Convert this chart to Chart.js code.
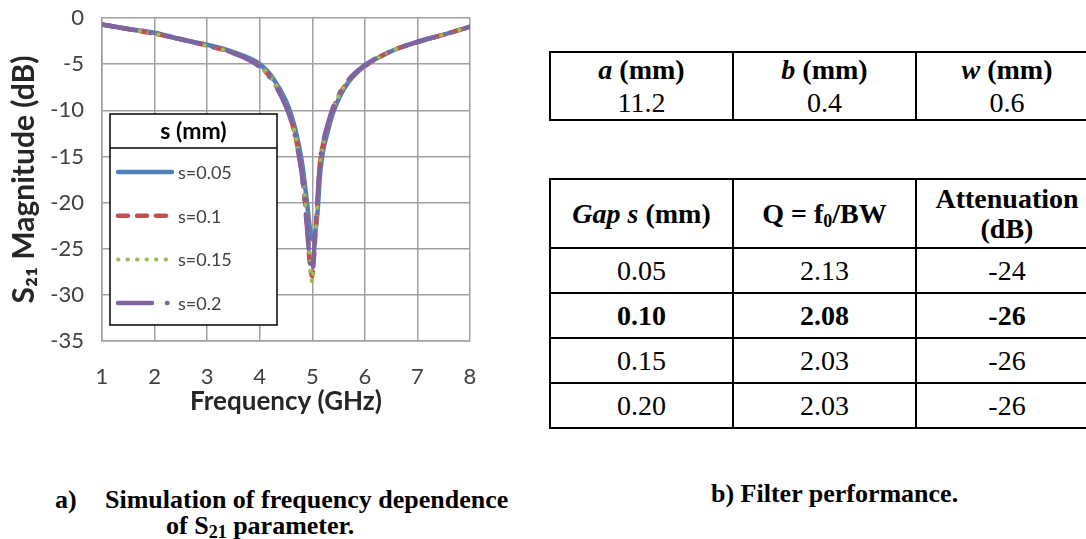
<!DOCTYPE html>
<html><head><meta charset="utf-8">
<script src="https://cdn.jsdelivr.net/npm/chart.js@4.4.1/dist/chart.umd.min.js"></script>
<style>
html,body{margin:0;padding:0;background:#fff;}
body{width:1086px;height:539px;overflow:hidden;position:relative;}
#wrap{position:absolute;left:0;top:-30px;width:520px;height:460px;}
.tbl{position:absolute;border-collapse:collapse;font-family:"Liberation Serif","Times New Roman","DejaVu Serif",serif;font-size:28px;color:#000;table-layout:fixed;}
.tbl td{border:2px solid #000;text-align:center;padding:0;vertical-align:middle;}
#t1 td{line-height:33px;}
#t2 td{line-height:30px;}
#t2 tr.r td{height:43px;}
#t2 tr.h td{height:67px;}
.cap{position:absolute;font-family:"Liberation Serif","Times New Roman",serif;font-weight:bold;font-size:26px;line-height:26px;white-space:nowrap;color:#000;}
sub.s{font-size:18px;vertical-align:-4px;line-height:0;}
</style></head>
<body>
<div id="wrap"><canvas id="c" width="520" height="460"></canvas></div>

<table class="tbl" id="t1" style="left:549px;top:51px;width:548px;">
<colgroup><col style="width:183px"><col style="width:183px"><col style="width:182px"></colgroup>
<tr><td><b><i>a</i> (mm)</b><br>11.2</td><td><b><i>b</i> (mm)</b><br>0.4</td><td><b><i>w</i> (mm)</b><br>0.6</td></tr>
</table>

<table class="tbl" id="t2" style="left:549px;top:178px;width:548px;">
<colgroup><col style="width:183px"><col style="width:183px"><col style="width:182px"></colgroup>
<tr class="h"><td><b><i>Gap s</i> (mm)</b></td><td><b>Q = f<sub class="s">0</sub>/BW</b></td><td><b>Attenuation<br>(dB)</b></td></tr>
<tr class="r"><td>0.05</td><td>2.13</td><td>-24</td></tr>
<tr class="r" style="font-weight:bold"><td>0.10</td><td>2.08</td><td>-26</td></tr>
<tr class="r"><td>0.15</td><td>2.03</td><td>-26</td></tr>
<tr class="r"><td>0.20</td><td>2.03</td><td>-26</td></tr>
</table>

<div class="cap" style="left:55px;top:487px">a)</div>
<div class="cap" style="left:105px;top:487px">Simulation of frequency dependence</div>
<div class="cap" style="left:166px;top:513px">of S<sub class="s">21</sub> parameter.</div>
<div class="cap" style="left:711px;top:481px">b) Filter performance.</div>

<script>
// ---- data ----
const frequencyGHz = [1, 1.5, 2, 2.5, 3, 3.5, 4, 4.25, 4.5, 4.6, 4.7, 4.8, 4.85, 4.9, 4.95, 5, 5.05, 5.1, 5.15, 5.2, 5.3, 5.4, 5.5, 5.6, 5.75, 6, 6.5, 7, 7.5, 8];
const s21_s005 = [-0.7, -1.2, -1.6, -2.3, -2.9, -3.7, -5.0, -6.5, -9.0, -10.5, -12.6, -15.5, -17.6, -20.0, -22.6, -24.0, -23.5, -21.0, -16.8, -14.6, -12.2, -10.2, -8.8, -7.7, -6.5, -5.2, -3.6, -2.6, -1.8, -0.95];
const s21_s010 = [-0.7, -1.2, -1.7, -2.3, -3.0, -3.8, -5.2, -6.8, -9.5, -11.1, -13.4, -16.8, -19.3, -22.3, -26.5, -28.0, -24.2, -19.8, -15.4, -13.8, -11.6, -9.8, -8.4, -7.5, -6.4, -5.2, -3.6, -2.6, -1.8, -0.95];
const s21_s015 = [-0.7, -1.2, -1.7, -2.3, -3.0, -3.8, -5.2, -6.7, -9.4, -11.0, -13.3, -16.6, -19.0, -22.0, -26.0, -28.6, -24.6, -20.2, -15.6, -13.9, -11.7, -9.8, -8.5, -7.5, -6.4, -5.2, -3.6, -2.6, -1.8, -0.95];
const s21_s020 = [-0.7, -1.2, -1.7, -2.3, -3.0, -3.8, -5.3, -6.9, -9.6, -11.2, -13.6, -16.9, -19.6, -22.8, -26.0, -27.6, -23.5, -19.5, -15.3, -13.6, -11.4, -9.6, -8.3, -7.4, -6.3, -5.1, -3.6, -2.6, -1.8, -0.95];
const seriesLabels = ['s=0.05', 's=0.1', 's=0.15', 's=0.2'];
const legendTitle = 's (mm)';
const xTicks = [1, 2, 3, 4, 5, 6, 7, 8];
const yTicks = [0, -5, -10, -15, -20, -25, -30, -35];
const xTitle = 'Frequency (GHz)';
const yTitle = 'S\u2082\u2081 Magnitude (dB)';

const toXY = arr => arr.map((v, i) => ({x: frequencyGHz[i], y: v}));
const styles = [
  {borderColor: '#4F81BD', borderWidth: 4.5, borderDash: [], borderCapStyle: 'round', order: 3},
  {borderColor: '#C0504D', borderWidth: 4.5, borderDash: [10, 9], borderCapStyle: 'round', order: 2},
  {borderColor: '#9BBB59', borderWidth: 4, borderDash: [0.5, 9], borderCapStyle: 'round', order: 1},
  {borderColor: '#8064A2', borderWidth: 4.5, borderDash: [34, 15, 0.5, 15], borderCapStyle: 'round', order: 0}
];
const seriesData = [s21_s005, s21_s010, s21_s015, s21_s020];

const boxLegend = {
  id: 'boxLegend',
  afterDraw(chart) {
    const {ctx, chartArea} = chart;
    const x0 = chartArea.left + 8, y0 = chartArea.top + 96, w = 167, h = 211;
    ctx.save();
    ctx.fillStyle = '#fff'; ctx.fillRect(x0, y0, w, h);
    ctx.strokeStyle = '#000'; ctx.lineWidth = 1.5; ctx.setLineDash([]);
    ctx.strokeRect(x0, y0, w, h);
    ctx.beginPath(); ctx.moveTo(x0, y0 + 34); ctx.lineTo(x0 + w, y0 + 34); ctx.stroke();
    ctx.fillStyle = '#000'; ctx.font = 'bold 23px Lato'; ctx.textAlign = 'center'; ctx.textBaseline = 'middle';
    ctx.fillText(legendTitle, x0 + w / 2, y0 + 18);
    chart.data.datasets.forEach((ds, i) => {
      const y = y0 + 58 + i * 43.7;
      ctx.strokeStyle = ds.borderColor; ctx.lineWidth = ds.borderWidth;
      ctx.setLineDash(ds.borderDash || []); ctx.lineCap = ds.borderCapStyle || 'butt';
      ctx.beginPath(); ctx.moveTo(x0 + 8, y); ctx.lineTo(x0 + 62, y); ctx.stroke();
      ctx.setLineDash([]);
      ctx.fillStyle = '#404040'; ctx.font = '18px Lato'; ctx.textAlign = 'left';
      ctx.fillText(ds.label, x0 + 68, y + 1);
    });
    ctx.restore();
  }
};

const gridColor = '#a0a0a0';
new Chart(document.getElementById('c'), {
  type: 'line',
  data: {
    datasets: seriesData.map((arr, i) => Object.assign({
      label: seriesLabels[i], data: toXY(arr), pointRadius: 0, fill: false,
      cubicInterpolationMode: 'monotone'
    }, styles[i]))
  },
  options: {
    responsive: false, animation: false, devicePixelRatio: 1,
    layout: {padding: {left: 0, top: 48, right: 50, bottom: 0}},
    plugins: {legend: {display: false}, tooltip: {enabled: false}},
    scales: {
      x: {
        type: 'linear', min: 1, max: 8,
        afterBuildTicks: s => { s.ticks = xTicks.map(v => ({value: v})); },
        afterFit: s => { s.height = 89; },
        grid: {color: gridColor, lineWidth: 1.5, drawTicks: false},
        border: {color: gridColor, width: 1.5},
        ticks: {font: {family: 'Lato', size: 22}, color: '#404040', padding: 23, maxRotation: 0},
        title: {display: true, text: xTitle, font: {family: 'Lato', size: 26, weight: 'bold'}, color: '#262626', padding: {top: 0, bottom: 13}}
      },
      y: {
        min: -35, max: 0,
        afterBuildTicks: s => { s.ticks = yTicks.map(v => ({value: v})); },
        afterFit: s => { s.width = 102; },
        grid: {color: gridColor, lineWidth: 1.5, drawTicks: false},
        border: {color: gridColor, width: 1.5},
        ticks: {font: {family: 'Lato', size: 22}, color: '#404040', padding: 18},
        title: {display: true, text: yTitle, font: {family: 'Lato', size: 30, weight: 'bold'}, color: '#262626', padding: {top: 6, bottom: 0}}
      }
    }
  },
  plugins: [boxLegend]
});
</script>
</body></html>
